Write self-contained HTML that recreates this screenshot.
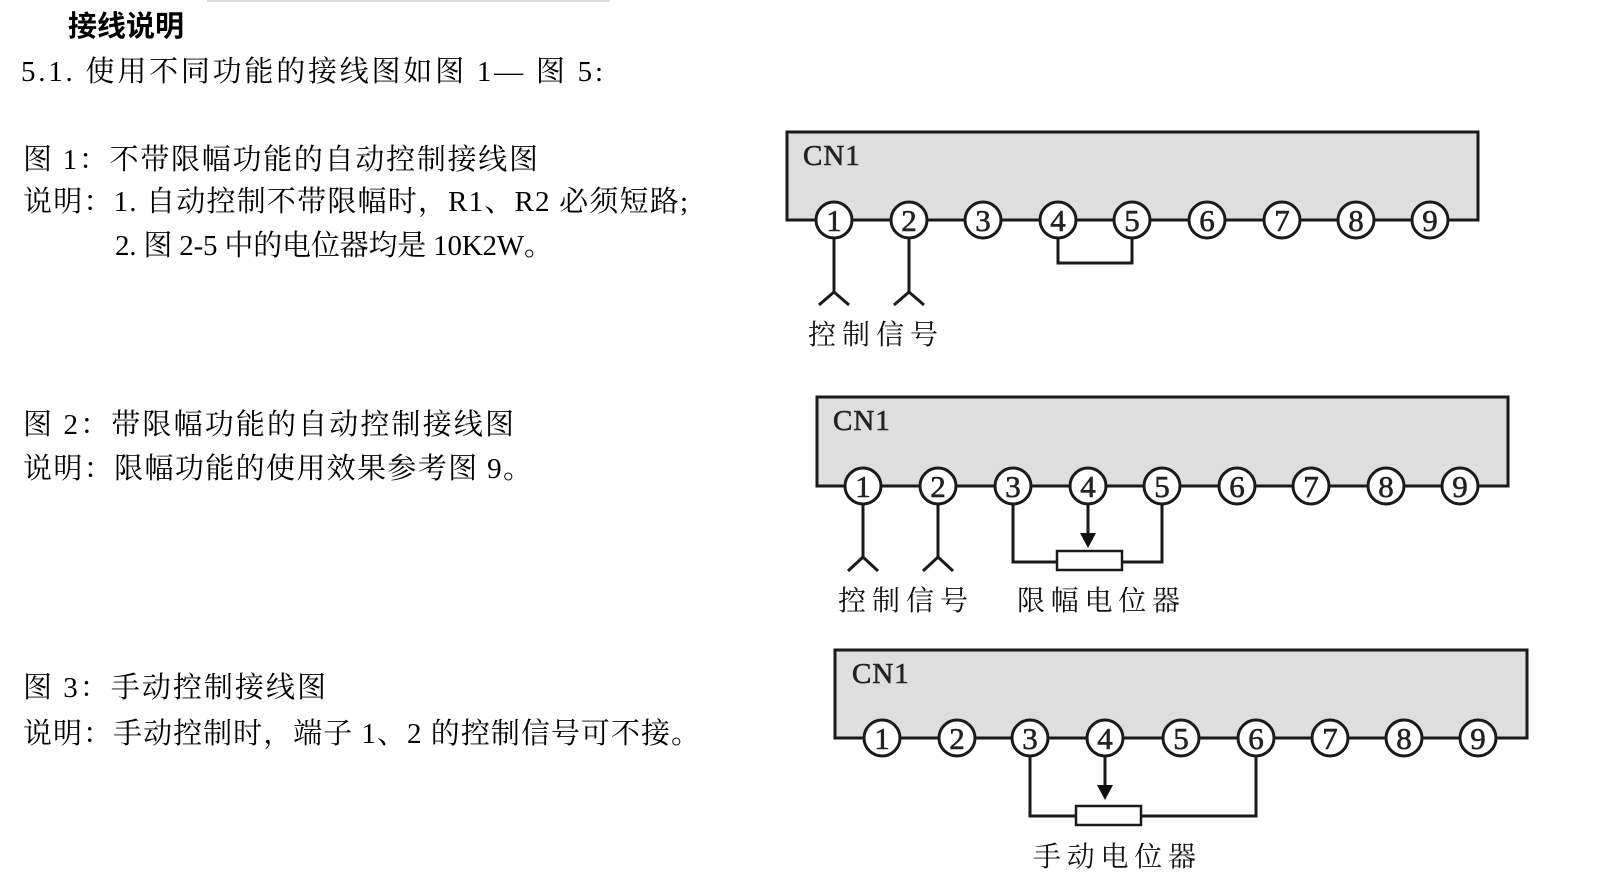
<!DOCTYPE html>
<html><head><meta charset="utf-8"><style>
html,body{margin:0;padding:0;background:#fff;width:1600px;height:892px;overflow:hidden}
svg{display:block}
.t{font-family:"Liberation Serif","Noto Serif CJK SC",serif;font-size:29px;fill:#000}
.d{font-family:"Liberation Serif",serif;font-size:31px;fill:#222;text-anchor:middle;stroke:#222;stroke-width:0.6}
.cn{font-family:"Liberation Serif",serif;font-size:29px;fill:#222;letter-spacing:1px;stroke:#222;stroke-width:0.6}
.lb{font-family:"Liberation Serif","Noto Serif CJK SC",serif;font-size:28px;fill:#111}
</style></head><body>
<svg width="1600" height="892" viewBox="0 0 1600 892" xmlns="http://www.w3.org/2000/svg">
<rect x="207" y="0" width="403" height="2" fill="#ddd"/>
<text class="t" x="68" y="36" font-weight="bold" style="font-family:'Liberation Sans','Noto Sans CJK SC',sans-serif">接线说明</text>
<text class="t" x="21" y="81" textLength="582" lengthAdjust="spacing">5.1. 使用不同功能的接线图如图 1— 图 5:</text>
<text class="t" x="23" y="169" textLength="515" lengthAdjust="spacing">图 1：不带限幅功能的自动控制接线图</text>
<text class="t" x="23" y="211" textLength="665" lengthAdjust="spacing">说明：1. 自动控制不带限幅时，R1、R2 必须短路;</text>
<text class="t" x="115" y="255" textLength="438" lengthAdjust="spacing">2. 图 2-5 中的电位器均是 10K2W。</text>
<text class="t" x="23" y="434" textLength="491" lengthAdjust="spacing">图 2：带限幅功能的自动控制接线图</text>
<text class="t" x="23" y="478" textLength="509" lengthAdjust="spacing">说明：限幅功能的使用效果参考图 9。</text>
<text class="t" x="23" y="697" textLength="303" lengthAdjust="spacing">图 3：手动控制接线图</text>
<text class="t" x="23" y="743" textLength="677" lengthAdjust="spacing">说明：手动控制时，端子 1、2 的控制信号可不接。</text>

<g stroke="#1a1a1a" stroke-width="3" fill="none">
<path d="M787,220 L787,132 L1478,132 L1478,220 Z" fill="#dedede"/>
<path d="M834,238 V292 M819,305 L834,292 L849,305 M909,238 V292 M894,305 L909,292 L924,305"/>
<path d="M1058,238 V263 H1132 V238"/>
<path d="M817,486 L817,397 L1508,397 L1508,486 Z" fill="#dedede"/>
<path d="M863,504 V557 M848,571 L863,557 L878,571 M938,504 V557 M923,571 L938,557 L953,571"/>
<path d="M1013,504 V562 H1057 M1122,562 H1162 V504 M1088,504 V535"/>
<rect x="1057" y="551" width="65" height="19" fill="#fff" stroke-width="2.5"/>
<path d="M835,738 L835,650 L1527,650 L1527,738 Z" fill="#dedede"/>
<path d="M1030,756 V816 H1076 M1141,816 H1256 V756 M1105,756 V787"/>
<rect x="1076" y="806" width="65" height="19" fill="#fff" stroke-width="2.5"/>
</g>
<polygon points="1080,533 1096,533 1088,548" fill="#111"/>
<polygon points="1097,785 1113,785 1105,800" fill="#111"/>

<g stroke="#1a1a1a" stroke-width="3" fill="#fff">
<circle cx="834" cy="220" r="18"/><circle cx="909" cy="220" r="18"/><circle cx="983" cy="220" r="18"/><circle cx="1058" cy="220" r="18"/><circle cx="1132" cy="220" r="18"/><circle cx="1207" cy="220" r="18"/><circle cx="1282" cy="220" r="18"/><circle cx="1356" cy="220" r="18"/><circle cx="1430" cy="220" r="18"/>
<circle cx="863" cy="486" r="18"/><circle cx="938" cy="486" r="18"/><circle cx="1013" cy="486" r="18"/><circle cx="1088" cy="486" r="18"/><circle cx="1162" cy="486" r="18"/><circle cx="1237" cy="486" r="18"/><circle cx="1311" cy="486" r="18"/><circle cx="1386" cy="486" r="18"/><circle cx="1460" cy="486" r="18"/>
<circle cx="882" cy="738" r="18"/><circle cx="957" cy="738" r="18"/><circle cx="1030" cy="738" r="18"/><circle cx="1105" cy="738" r="18"/><circle cx="1181" cy="738" r="18"/><circle cx="1256" cy="738" r="18"/><circle cx="1330" cy="738" r="18"/><circle cx="1404" cy="738" r="18"/><circle cx="1478" cy="738" r="18"/>
</g>
<g class="d">
<text x="834" y="231">1</text><text x="909" y="231">2</text><text x="983" y="231">3</text><text x="1058" y="231">4</text><text x="1132" y="231">5</text><text x="1207" y="231">6</text><text x="1282" y="231">7</text><text x="1356" y="231">8</text><text x="1430" y="231">9</text>
<text x="863" y="497">1</text><text x="938" y="497">2</text><text x="1013" y="497">3</text><text x="1088" y="497">4</text><text x="1162" y="497">5</text><text x="1237" y="497">6</text><text x="1311" y="497">7</text><text x="1386" y="497">8</text><text x="1460" y="497">9</text>
<text x="882" y="749">1</text><text x="957" y="749">2</text><text x="1030" y="749">3</text><text x="1105" y="749">4</text><text x="1181" y="749">5</text><text x="1256" y="749">6</text><text x="1330" y="749">7</text><text x="1404" y="749">8</text><text x="1478" y="749">9</text>
</g>
<text class="cn" x="803" y="165">CN1</text>
<text class="cn" x="833" y="430">CN1</text>
<text class="cn" x="852" y="683">CN1</text>
<text class="lb" x="808" y="344" textLength="130" lengthAdjust="spacing">控制信号</text>
<text class="lb" x="838" y="610" textLength="130" lengthAdjust="spacing">控制信号</text>
<text class="lb" x="1017" y="610" textLength="163" lengthAdjust="spacing">限幅电位器</text>
<text class="lb" x="1033" y="866" textLength="163" lengthAdjust="spacing">手动电位器</text>
</svg>
</body></html>
